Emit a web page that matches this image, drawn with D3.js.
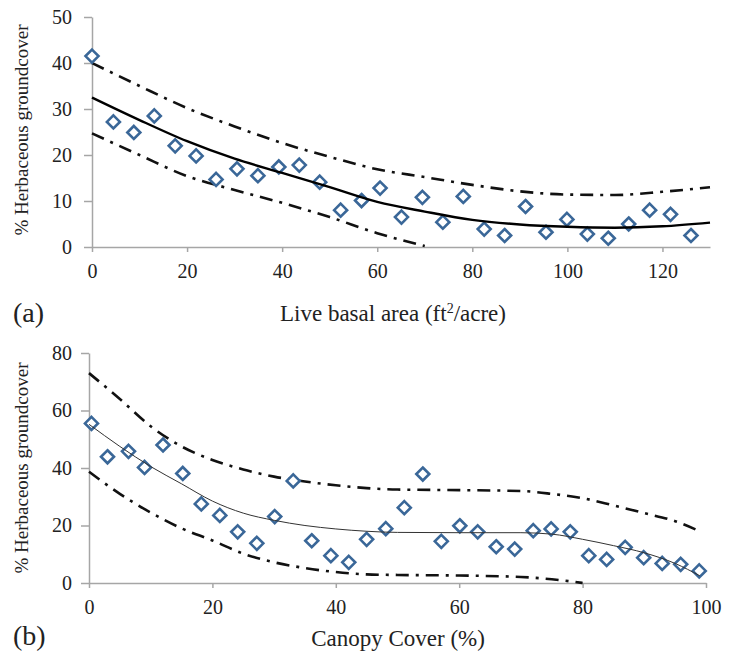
<!doctype html>
<html lang="en">
<head>
    <meta charset="utf-8">
    <title>Herbaceous groundcover</title>
    <script src="https://cdn.jsdelivr.net/npm/d3@7"></script>
    <style>
        body { margin: 0; background: #fff; }
        svg { display: block; }
        .axis path, .axis line { stroke: #a6a6a6; stroke-width: 1.5; }
    </style>
</head>
<body>
<svg></svg>
<script>
    var width = 739;
    var height = 653;
    var serif = '"Liberation Serif", "Times New Roman", serif';

    // panel (a): live basal area
    var basalX = [0, 4.5, 8.8, 13.1, 17.5, 21.9, 26.1, 30.5, 34.9, 39.3, 43.6, 47.9, 52.3, 56.7,
        60.6, 65.1, 69.5, 73.8, 78.1, 82.5, 86.8, 91.2, 95.5, 99.9, 104.2, 108.6, 112.9, 117.3, 121.7, 126.0];
    var basalY = [41.5, 27.2, 24.9, 28.5, 22.0, 19.8, 14.7, 17.0, 15.5, 17.4, 17.8, 14.1, 8.0, 10.1,
        12.8, 6.5, 10.8, 5.4, 11.0, 3.9, 2.5, 8.8, 3.2, 6.0, 2.8, 1.9, 5.0, 8.0, 7.1, 2.5];
    var basalCurveX = [0, 10, 20, 30, 40, 50, 60, 70, 80, 90, 100, 110, 120, 130];
    var basalFit = [32.5, 27.6, 23.0, 19.2, 16.1, 13.0, 9.8, 7.7, 5.9, 4.9, 4.4, 4.2, 4.5, 5.3];
    var basalUpper = [40, 35, 30.2, 26.2, 22.6, 19.6, 16.9, 15.2, 13.5, 12.1, 11.4, 11.3, 12.0, 13.0];
    var basalLowerX = [0, 10, 20, 30, 40, 50, 60, 70];
    var basalLower = [24.7, 20.0, 15.4, 12.4, 9.6, 6.5, 3.0, 0.2];
    var basalXTicks = [0, 20, 40, 60, 80, 100, 120];
    var basalYTicks = [0, 10, 20, 30, 40, 50];

    // panel (b): canopy cover
    var canopyX = [0.4, 3.0, 6.4, 9.0, 12.0, 15.2, 18.2, 21.2, 24.1, 27.2, 30.1, 33.1, 36.1, 39.2, 42.1, 45.0,
        48.1, 51.1, 54.1, 57.1, 60.1, 63.0, 66.0, 69.0, 72.0, 74.9, 78.0, 81.0, 83.9, 86.9, 89.9, 92.9, 95.9, 98.9];
    var canopyY = [55.5, 43.9, 45.8, 40.2, 48.0, 38.1, 27.5, 23.5, 17.8, 13.8, 23.1, 35.5, 14.7, 9.5, 7.2, 15.2,
        18.9, 26.2, 37.9, 14.5, 19.9, 17.8, 12.6, 11.8, 18.2, 18.8, 17.8, 9.5, 8.2, 12.4, 8.8, 6.8, 6.5, 4.2];
    var canopyCurveX = [0, 5, 10, 15, 20, 25, 30, 35, 40, 45, 50, 60, 70, 75, 80, 85, 90, 95, 99];
    var canopyFit = [55.2, 47.5, 40.5, 34.5, 28.5, 24.3, 21.8, 20.0, 18.8, 18.0, 17.6, 17.5, 17.5, 17.0, 15.2, 13.0, 10.5, 6.8, 2.5];
    var canopyUpper = [73, 64, 54.5, 47.5, 42.8, 39.5, 37, 35.3, 34, 33, 32.5, 32.3, 32, 31, 29.5, 27, 24.3, 21.5, 18];
    var canopyLowerX = [0, 5, 10, 15, 20, 25, 30, 35, 40, 45, 50, 60, 70, 75, 80];
    var canopyLower = [38.7, 31, 24.5, 19, 14.8, 10.2, 7.2, 5.2, 3.8, 3.0, 2.8, 2.6, 2.1, 1.3, 0];
    var canopyXTicks = [0, 20, 40, 60, 80, 100];
    var canopyYTicks = [0, 20, 40, 60, 80];

    var svg = d3.select('svg').attr('width', width).attr('height', height);

    function drawPanel(p) {
        var xScale = d3.scaleLinear().domain(p.xDomain).range([p.left, p.right]);
        var yScale = d3.scaleLinear().domain(p.yDomain).range([p.bottom, p.top]);
        var g = svg.append('g');

        var xAxis = g.append('g')
            .attr('class', 'axis')
            .attr('transform', 'translate(0,' + p.bottom + ')')
            .call(d3.axisBottom(xScale).tickValues(p.xTicks).tickSize(5).tickSizeOuter(0).tickPadding(12));
        var yAxis = g.append('g')
            .attr('class', 'axis')
            .attr('transform', 'translate(' + p.left + ',0)')
            .call(d3.axisLeft(yScale).tickValues(p.yTicks).tickSize(8).tickSizeOuter(0).tickPadding(p.yPad));
        [xAxis, yAxis].forEach(function (a) {
            a.attr('font-family', serif).attr('font-size', 20);
            a.selectAll('text').attr('fill', '#222');
        });

        function band(xs, ys, dashed, sw, col) {
            var pts = xs.map(function (x, i) { return [x, ys[i]]; });
            g.append('path')
                .datum(pts)
                .attr('fill', 'none')
                .attr('stroke', col)
                .attr('stroke-width', sw)
                .attr('stroke-dasharray', dashed ? '13,7,3,7' : null)
                .attr('d', d3.line()
                    .x(function (d) { return xScale(d[0]); })
                    .y(function (d) { return yScale(d[1]); })
                    .curve(d3.curveMonotoneX));
        }
        band(p.curveX, p.upper, true, 2.6, '#111');
        band(p.lowerX, p.lower, true, 2.6, '#111');

        var pts = p.xs.map(function (x, i) { return [x, p.ys[i]]; });
        g.selectAll('path.pt')
            .data(pts)
            .enter()
            .append('path')
            .attr('class', 'pt')
            .attr('d', 'M0,-6.5L6.5,0L0,6.5L-6.5,0Z')
            .attr('transform', function (d) {
                return 'translate(' + xScale(d[0]) + ',' + yScale(d[1]) + ')';
            })
            .attr('fill', '#fff')
            .attr('stroke', '#3a6798')
            .attr('stroke-width', 2.6);

        band(p.curveX, p.fit, false, p.fitWidth, p.fitColor);

        g.append('text')
            .attr('transform', 'translate(' + p.yTitleX + ',' + p.yTitleY + ') rotate(-90)')
            .attr('text-anchor', 'middle')
            .attr('font-family', serif)
            .attr('font-size', 19)
            .attr('fill', '#222')
            .text('% Herbaceous groundcover');

        var xt = g.append('text')
            .attr('x', p.xTitleX)
            .attr('y', p.xTitleY)
            .attr('text-anchor', 'middle')
            .attr('font-family', serif)
            .attr('font-size', 23)
            .attr('fill', '#222');
        if (p.sup) {
            xt.append('tspan').text(p.xTitle);
            xt.append('tspan').attr('dy', -8).attr('font-size', 14).text(p.sup);
            xt.append('tspan').attr('dy', 8).text(p.xTitleEnd);
        } else {
            xt.text(p.xTitle);
        }

        g.append('text')
            .attr('x', p.tagX)
            .attr('y', p.tagY)
            .attr('font-family', serif)
            .attr('font-size', 28)
            .attr('fill', '#222')
            .text(p.tag);
    }

    drawPanel({
        xDomain: [0, 130], yDomain: [0, 50], left: 92, right: 710, top: 17, bottom: 247,
        xTicks: basalXTicks, yTicks: basalYTicks, yPad: 12,
        xs: basalX, ys: basalY, curveX: basalCurveX, fit: basalFit, upper: basalUpper,
        lowerX: basalLowerX, lower: basalLower, fitWidth: 2.4, fitColor: '#000',
        yTitleX: 28, yTitleY: 130,
        xTitle: 'Live basal area (ft', sup: '2', xTitleEnd: '/acre)', xTitleX: 393, xTitleY: 321,
        tag: '(a)', tagX: 13, tagY: 322
    });

    drawPanel({
        xDomain: [0, 100], yDomain: [0, 80], left: 89, right: 706, top: 353, bottom: 583,
        xTicks: canopyXTicks, yTicks: canopyYTicks, yPad: 9,
        xs: canopyX, ys: canopyY, curveX: canopyCurveX, fit: canopyFit, upper: canopyUpper,
        lowerX: canopyLowerX, lower: canopyLower, fitWidth: 1, fitColor: '#333',
        yTitleX: 28, yTitleY: 468,
        xTitle: 'Canopy Cover (%)', xTitleX: 398, xTitleY: 646,
        tag: '(b)', tagX: 13, tagY: 645
    });
</script>
</body>
</html>
